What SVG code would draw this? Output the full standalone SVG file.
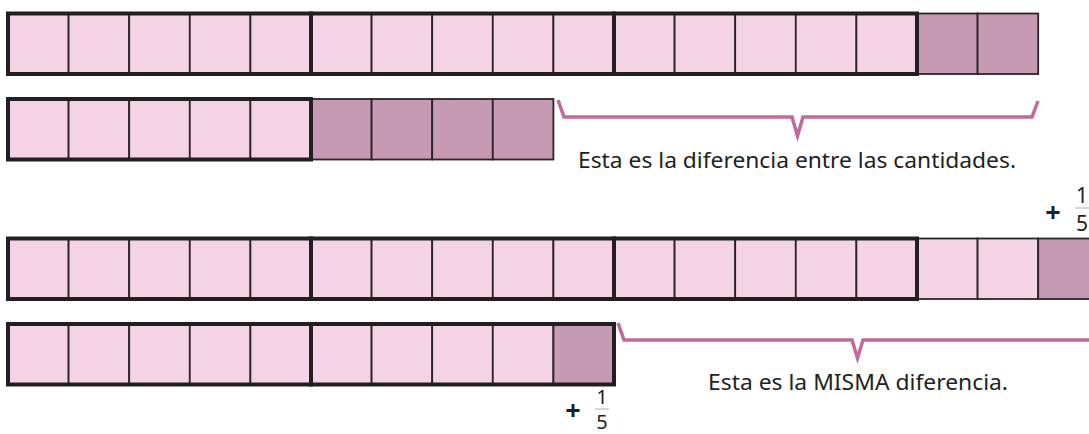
<svg xmlns="http://www.w3.org/2000/svg" width="1089" height="434" viewBox="0 0 1089 434">
<style>
.c{fill:#f4d4e4;stroke:#2a2527;stroke-width:1.8}
.d{fill:#c59ab2;stroke:#2a2527;stroke-width:1.8}
.g{fill:none;stroke:#231f20;stroke-width:4}
.br{fill:none;stroke:#c1699a;stroke-width:3.5;stroke-linejoin:miter}
.t{font-family:"Noto Sans","Open Sans","Liberation Sans",sans-serif;font-size:21.5px;fill:#231f20}
.f{font-family:"Noto Sans","Open Sans","Liberation Sans",sans-serif;font-size:21px;fill:#231f20;text-anchor:middle}
.f2{font-family:"Noto Sans","Open Sans","Liberation Sans",sans-serif;font-size:20px;fill:#231f20;text-anchor:middle}
.p{font-family:"Noto Sans","Open Sans","Liberation Sans",sans-serif;font-size:27px;font-weight:bold;fill:#231f20;text-anchor:middle}
.fl{stroke:#9a9a9a;stroke-width:0.8}
</style>
<defs>
<rect id="lc" class="c" width="60.6" height="60.5"/>
<rect id="dc" class="d" width="60.6" height="60.5"/>
</defs>
<g id="bar1">
<use href="#lc" x="8" y="13.5"/><use href="#lc" x="68.6" y="13.5"/><use href="#lc" x="129.2" y="13.5"/><use href="#lc" x="189.8" y="13.5"/><use href="#lc" x="250.4" y="13.5"/>
<use href="#lc" x="311" y="13.5"/><use href="#lc" x="371.6" y="13.5"/><use href="#lc" x="432.2" y="13.5"/><use href="#lc" x="492.8" y="13.5"/><use href="#lc" x="553.4" y="13.5"/>
<use href="#lc" x="614" y="13.5"/><use href="#lc" x="674.6" y="13.5"/><use href="#lc" x="735.2" y="13.5"/><use href="#lc" x="795.8" y="13.5"/><use href="#lc" x="856.4" y="13.5"/>
<use href="#dc" x="917" y="13.5"/><use href="#dc" x="977.6" y="13.5"/>
<rect class="g" x="8" y="13.5" width="303" height="60.5"/><rect class="g" x="311" y="13.5" width="303" height="60.5"/><rect class="g" x="614" y="13.5" width="303" height="60.5"/>
</g>
<g id="bar2">
<use href="#lc" x="8" y="99" /><use href="#lc" x="68.6" y="99"/><use href="#lc" x="129.2" y="99"/><use href="#lc" x="189.8" y="99"/><use href="#lc" x="250.4" y="99"/>
<use href="#dc" x="311" y="99"/><use href="#dc" x="371.6" y="99"/><use href="#dc" x="432.2" y="99"/><use href="#dc" x="492.8" y="99"/>
<rect class="g" x="8" y="99" width="303" height="60.5"/>
</g>
<g id="bar3">
<use href="#lc" x="8" y="238.5"/><use href="#lc" x="68.6" y="238.5"/><use href="#lc" x="129.2" y="238.5"/><use href="#lc" x="189.8" y="238.5"/><use href="#lc" x="250.4" y="238.5"/>
<use href="#lc" x="311" y="238.5"/><use href="#lc" x="371.6" y="238.5"/><use href="#lc" x="432.2" y="238.5"/><use href="#lc" x="492.8" y="238.5"/><use href="#lc" x="553.4" y="238.5"/>
<use href="#lc" x="614" y="238.5"/><use href="#lc" x="674.6" y="238.5"/><use href="#lc" x="735.2" y="238.5"/><use href="#lc" x="795.8" y="238.5"/><use href="#lc" x="856.4" y="238.5"/>
<use href="#lc" x="917" y="238.5"/><use href="#lc" x="977.6" y="238.5"/><use href="#dc" x="1038.2" y="238.5"/>
<rect class="g" x="8" y="238.5" width="303" height="60.5"/><rect class="g" x="311" y="238.5" width="303" height="60.5"/><rect class="g" x="614" y="238.5" width="303" height="60.5"/>
</g>
<g id="bar4">
<use href="#lc" x="8" y="324"/><use href="#lc" x="68.6" y="324"/><use href="#lc" x="129.2" y="324"/><use href="#lc" x="189.8" y="324"/><use href="#lc" x="250.4" y="324"/>
<use href="#lc" x="311" y="324"/><use href="#lc" x="371.6" y="324"/><use href="#lc" x="432.2" y="324"/><use href="#lc" x="492.8" y="324"/><use href="#dc" x="553.4" y="324"/>
<rect class="g" x="8" y="324" width="303" height="60.5"/><rect class="g" x="311" y="324" width="303" height="60.5"/>
</g>
<g id="connectors">
<path class="br" d="M558,100 L564,117 L792,117 L797.5,136 L803,117 L1032,117 L1038,101"/>
<path class="br" d="M618,323 L624,340 L852,340 L857.5,358 L863,340 L1094,340 L1100,323"/>
</g>
<g id="label1"><text class="t" x="578" y="168" textLength="438" lengthAdjust="spacingAndGlyphs">Esta es la diferencia entre las cantidades.</text></g>
<g id="label2"><text class="t" x="708" y="390" textLength="300" lengthAdjust="spacingAndGlyphs">Esta es la MISMA diferencia.</text></g>
<g id="frac1">
<text class="p" x="1053" y="222">+</text>
<text class="f" x="1082" y="203">1</text>
<line class="fl" x1="1075" y1="208" x2="1089" y2="208"/>
<text class="f" x="1082" y="231">5</text>
</g>
<g id="frac2">
<text class="p" x="573" y="420">+</text>
<text class="f2" x="602" y="404">1</text>
<line class="fl" x1="595" y1="409" x2="609" y2="409"/>
<text class="f2" x="602" y="429">5</text>
</g>
</svg>
